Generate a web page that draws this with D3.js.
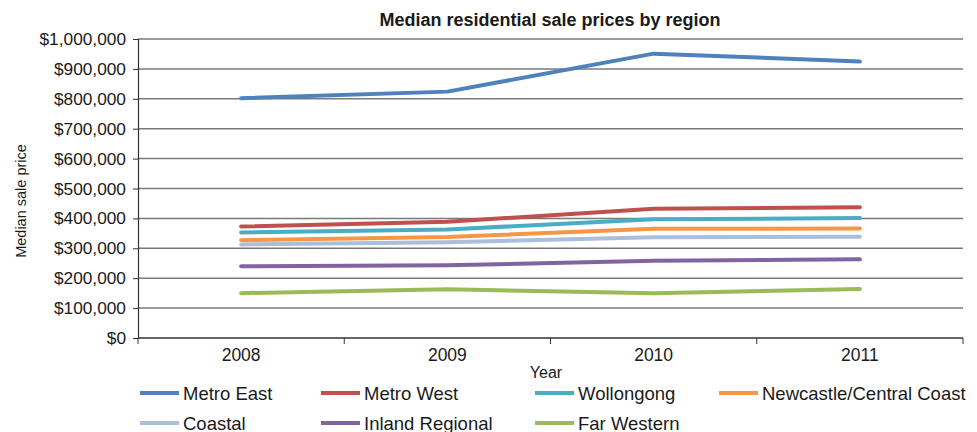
<!DOCTYPE html>
<html>
<head>
    <title>Median residential sale prices by region</title>
    <style>
        body { margin: 0; background: #fff; }
        text { font-family: "Liberation Sans", Arial, sans-serif; fill: #1a1a1a; }
    </style>
</head>
<body>
<script src="https://d3js.org/d3.v7.min.js"></script>
<script>

    var width = 977,
        height = 432;

    // chart data
    var years = ['2008', '2009', '2010', '2011'];
    var regions = ['Metro East', 'Metro West', 'Wollongong', 'Newcastle/Central Coast',
        'Coastal', 'Inland Regional', 'Far Western'];
    var metroEast = [802000, 824000, 951000, 925000];
    var metroWest = [373000, 389000, 432000, 437000];
    var wollongong = [353000, 363000, 397000, 401000];
    var newcastle = [327000, 338000, 365000, 366000];
    var coastal = [313000, 320000, 337000, 339000];
    var inland = [240000, 243000, 258000, 263000];
    var farWestern = [150000, 163000, 150000, 164000];
    var yTicks = [0, 100000, 200000, 300000, 400000, 500000, 600000, 700000, 800000, 900000, 1000000];

    var colors = ['#4f81bd', '#c0504d', '#4bacc6', '#f79646', '#aabfdc', '#8064a2', '#9bbb59'];
    var series = [metroEast, metroWest, wollongong, newcastle, coastal, inland, farWestern];

    var margin = {top: 39, right: 14, bottom: 94, left: 138};

    var svg = d3.select('body').append('svg')
        .attr('width', width)
        .attr('height', height);

    var x = d3.scaleBand()
        .domain(years)
        .range([margin.left, width - margin.right]);

    var y = d3.scaleLinear()
        .domain([0, 1000000])
        .range([height - margin.bottom, margin.top]);

    var fmt = function (d) { return '$' + d3.format(',')(d); };

    // gridlines
    svg.append('g')
        .selectAll('line')
        .data(yTicks.slice(1))
        .enter().append('line')
        .attr('x1', margin.left)
        .attr('x2', width - margin.right)
        .attr('y1', function (d) { return y(d); })
        .attr('y2', function (d) { return y(d); })
        .attr('stroke', '#7a7a7a')
        .attr('stroke-width', 1.5);

    // y axis
    var yAxis = svg.append('g')
        .attr('transform', 'translate(' + margin.left + ',0)')
        .call(d3.axisLeft(y).tickValues(yTicks).tickFormat(fmt).tickSize(5).tickPadding(7));
    yAxis.select('.domain').attr('stroke', '#333').attr('stroke-width', 1.2);
    yAxis.selectAll('.tick line').attr('stroke', '#333');
    yAxis.selectAll('text').style('font-size', '17.3px').attr('fill', '#1a1a1a')
        .style('font-family', '"Liberation Sans", Arial, sans-serif');

    // x axis, ticks on category boundaries
    var xAxisG = svg.append('g')
        .attr('transform', 'translate(0,' + y(0) + ')');
    xAxisG.append('line')
        .attr('x1', margin.left).attr('x2', width - margin.right)
        .attr('stroke', '#333').attr('stroke-width', 1.5);
    var bounds = years.map(function (d) { return x(d); }).concat([x(years[years.length - 1]) + x.bandwidth()]);
    xAxisG.selectAll('.bt')
        .data(bounds)
        .enter().append('line')
        .attr('x1', function (d) { return d; })
        .attr('x2', function (d) { return d; })
        .attr('y1', 0).attr('y2', 6)
        .attr('stroke', '#333');
    xAxisG.selectAll('.lbl')
        .data(years)
        .enter().append('text')
        .attr('x', function (d) { return x(d) + x.bandwidth() / 2; })
        .attr('y', 23)
        .attr('text-anchor', 'middle')
        .style('font-size', '17.5px')
        .text(function (d) { return d; });

    // lines
    var line = d3.line()
        .x(function (d, i) { return x(years[i]) + x.bandwidth() / 2; })
        .y(function (d) { return y(d); });

    svg.append('g')
        .selectAll('path')
        .data(series)
        .enter().append('path')
        .attr('d', line)
        .attr('fill', 'none')
        .attr('stroke', function (d, i) { return colors[i]; })
        .attr('stroke-width', 4)
        .attr('stroke-linecap', 'round')
        .attr('stroke-linejoin', 'round');

    // title and axis titles
    svg.append('text')
        .attr('x', 550).attr('y', 26)
        .attr('text-anchor', 'middle')
        .style('font-size', '18px')
        .style('font-weight', 'bold')
        .text('Median residential sale prices by region');

    svg.append('text')
        .attr('x', 546).attr('y', 378)
        .attr('text-anchor', 'middle')
        .style('font-size', '16px')
        .text('Year');

    svg.append('text')
        .attr('transform', 'translate(26,201) rotate(-90)')
        .attr('text-anchor', 'middle')
        .style('font-size', '14.5px')
        .text('Median sale price');

    // legend
    var legX = [140, 321, 535, 719];
    var legend = svg.append('g')
        .selectAll('g')
        .data(regions)
        .enter().append('g')
        .attr('transform', function (d, i) {
            return 'translate(' + legX[i % 4] + ',' + (393 + Math.floor(i / 4) * 30) + ')';
        });
    legend.append('line')
        .attr('x1', 0).attr('x2', 39)
        .attr('stroke', function (d, i) { return colors[i]; })
        .attr('stroke-width', 4);
    legend.append('text')
        .attr('x', 43).attr('y', 6.5)
        .style('font-size', '18.5px')
        .text(function (d) { return d; });

</script>
</body>
</html>
